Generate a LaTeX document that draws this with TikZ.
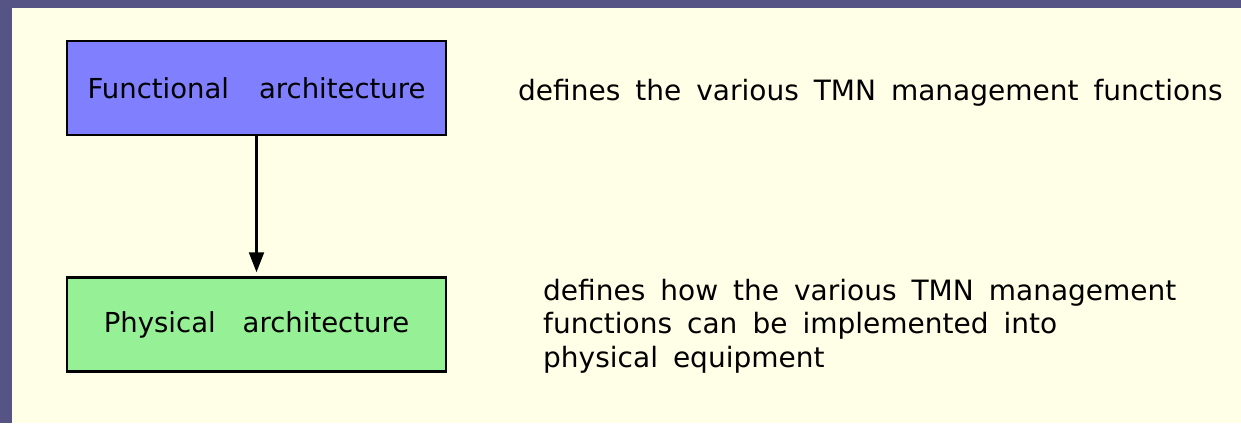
\documentclass[tikz,border=0pt]{standalone}
\usepackage{fontspec}
\setmainfont{DejaVu Sans}
\usetikzlibrary{arrows.meta}
\definecolor{frameblue}{RGB}{86,84,132}
\definecolor{cream}{RGB}{255,255,232}
\definecolor{funcblue}{RGB}{128,128,255}
\definecolor{physgreen}{RGB}{150,240,150}
\newcommand{\widespaces}{\spaceskip=15pt\relax}
\tikzset{
  archbox/.style={draw=black, line width=2.5pt, minimum width=379pt, minimum height=94pt, inner sep=0pt,
    font=\fontsize{27.5}{32}\selectfont},
  desc/.style={inner sep=0pt, align=left,
    font=\fontsize{28}{33.5}\selectfont},
  conn/.style={line width=2.2pt, -{Triangle[length=20pt,width=15pt]}, shorten >=4pt}
}
\begin{document}
\begin{tikzpicture}[x=1pt,y=-1pt]
\useasboundingbox (0,0) rectangle (1241,423);
\fill[frameblue] (0,0) rectangle (1241,423);
\fill[cream] (12,8) rectangle (1241,423);
\node[archbox, fill=funcblue] (func) at (256.5,88) {Functional\hspace{30pt}architecture};
\node[archbox, fill=physgreen] (phys) at (256.5,324.5) {Physical\hspace{27pt}architecture};
\draw[conn] (func.south) -- (phys.north);
\node[desc, anchor=base west] (d1) at (518,100) {\widespaces defines the various TMN management functions};
\node[desc, anchor=base west] (d2) at (543,367) {\widespaces defines how the various TMN management\\\widespaces functions can be implemented into\\\widespaces physical equipment};
\end{tikzpicture}
\end{document}
